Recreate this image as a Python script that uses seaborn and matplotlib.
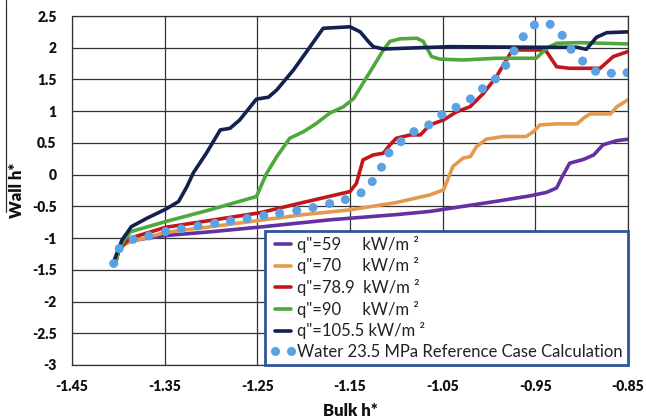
import matplotlib
matplotlib.use("Agg")
import matplotlib.pyplot as plt
from matplotlib.lines import Line2D
import pandas as pd
import seaborn as sns

# Bulk vs wall dimensionless enthalpy for several heat fluxes
q59_x = [-1.403, -1.399, -1.392, -1.386, -1.349, -1.30, -1.25, -1.17, -1.10, -1.064,
         -1.028, -0.992, -0.956, -0.938, -0.927, -0.922, -0.913, -0.898, -0.887,
         -0.877, -0.862, -0.85]
q59_y = [-1.38, -1.17, -1.08, -1.04, -0.96, -0.90, -0.83, -0.71, -0.63, -0.58,
         -0.50, -0.42, -0.335, -0.28, -0.21, -0.06, 0.18, 0.24, 0.31,
         0.47, 0.536, 0.558]

q70_x = [-1.403, -1.399, -1.392, -1.387, -1.349, -1.30, -1.247, -1.20, -1.15, -1.10,
         -1.064, -1.049, -1.039, -1.028, -1.02, -1.0135, -1.003, -0.985, -0.96,
         -0.952, -0.945, -0.927, -0.905, -0.898, -0.891, -0.869, -0.862, -0.85]
q70_y = [-1.38, -1.17, -1.09, -1.06, -0.91, -0.82, -0.72, -0.63, -0.555, -0.44,
         -0.32, -0.24, 0.127, 0.26, 0.285, 0.44, 0.558, 0.60, 0.60,
         0.678, 0.783, 0.80, 0.80, 0.89, 0.957, 0.957, 1.07, 1.18]

q79_x = [-1.403, -1.399, -1.392, -1.387, -1.349, -1.30, -1.247, -1.204, -1.15, -1.143,
         -1.136, -1.125, -1.114, -1.107, -1.10, -1.085, -1.074, -1.064, -1.049,
         -1.035, -1.0205, -1.006, -0.992, -0.977, -0.97, -0.945, -0.938, -0.927,
         -0.913, -0.88, -0.866, -0.85]
q79_y = [-1.38, -1.17, -1.07, -1.0, -0.83, -0.72, -0.60, -0.45, -0.267, -0.135,
         0.232, 0.31, 0.338, 0.468, 0.574, 0.626, 0.626, 0.783, 0.862,
         0.99, 1.07, 1.28, 1.544, 1.91, 1.965, 1.965, 1.94, 1.70,
         1.676, 1.676, 1.86, 1.94]

q90_x = [-1.403, -1.399, -1.392, -1.387, -1.349, -1.30, -1.251, -1.24, -1.229, -1.215,
         -1.20, -1.186, -1.172, -1.157, -1.146, -1.136, -1.125, -1.114, -1.107,
         -1.096, -1.078, -1.071, -1.062, -1.053, -1.028, -0.992, -0.949, -0.938,
         -0.927, -0.902, -0.85]
q90_y = [-1.38, -1.17, -1.0, -0.90, -0.74, -0.55, -0.345, 0.02, 0.284, 0.574,
         0.678, 0.81, 0.968, 1.07, 1.2, 1.44, 1.70, 1.965, 2.10,
         2.14, 2.15, 2.10, 1.86, 1.82, 1.807, 1.834, 1.834, 1.99,
         2.07, 2.08, 2.06]

q105_x = [-1.405, -1.396, -1.386, -1.369, -1.349, -1.335, -1.326, -1.319, -1.305, -1.29,
          -1.2795, -1.269, -1.251, -1.238, -1.229, -1.211, -1.193, -1.179, -1.15,
          -1.139, -1.13, -1.125, -1.114, -1.042, -0.949, -0.905, -0.895, -0.884,
          -0.873, -0.85]
q105_y = [-1.37, -1.03, -0.82, -0.686, -0.545, -0.424, -0.19, 0.03, 0.338, 0.705,
          0.73, 0.862, 1.19, 1.22, 1.335, 1.65, 2.017, 2.306, 2.33,
          2.25, 2.095, 2.017, 1.98, 2.017, 2.007, 2.007, 1.975, 2.165,
          2.237, 2.25]

ref_x = [-1.405, -1.399, -1.384, -1.367, -1.349, -1.332, -1.314, -1.296, -1.279, -1.261,
         -1.243, -1.226, -1.2075, -1.19, -1.172, -1.155, -1.138, -1.126, -1.116,
         -1.108, -1.095, -1.081, -1.065, -1.051, -1.0356, -1.02, -1.007, -0.993,
         -0.982, -0.973, -0.963, -0.951, -0.934, -0.921, -0.9115, -0.899, -0.885,
         -0.868, -0.851]
ref_y = [-1.40, -1.165, -1.02, -0.965, -0.897, -0.854, -0.81, -0.766, -0.728, -0.69,
         -0.645, -0.607, -0.566, -0.518, -0.456, -0.393, -0.287, -0.109, 0.117,
         0.343, 0.52, 0.678, 0.783, 0.946, 1.062, 1.193, 1.355, 1.508,
         1.723, 1.949, 2.174, 2.358, 2.369, 2.196, 1.975, 1.79, 1.629,
         1.598, 1.607]

labels = ['q"=59     kW/m \u00b2', 'q"=70     kW/m \u00b2', 'q"=78.9  kW/m \u00b2',
          'q"=90     kW/m \u00b2', 'q"=105.5 kW/m \u00b2']
colors = ["#6331A0", "#E39A4E", "#C2161C", "#4EA83D", "#14204F"]
ref_label = "Water 23.5 MPa Reference Case Calculation"
ref_color = "#5AA2E4"

x_ticks = [-1.45, -1.35, -1.25, -1.15, -1.05, -0.95, -0.85]
y_ticks = [2.5, 2, 1.5, 1, 0.5, 0, -0.5, -1, -1.5, -2, -2.5, -3]

sns.set_theme(style="white")
plt.rcParams["font.family"] = ["Lato", "DejaVu Sans"]

fig = plt.figure(figsize=(6.46, 4.18), dpi=100)
ax = fig.add_axes([72 / 646, 1 - 365 / 418, 556 / 646, 349 / 418])

series = [(q59_x, q59_y), (q70_x, q70_y), (q79_x, q79_y), (q90_x, q90_y), (q105_x, q105_y)]
frames = []
for (xs, ys), lab in zip(series, labels):
    frames.append(pd.DataFrame({"bulk": xs, "wall": ys, "case": lab}))
df = pd.concat(frames, ignore_index=True)

sns.lineplot(data=df, x="bulk", y="wall", hue="case", hue_order=labels,
             palette=colors, sort=False, estimator=None,
             linewidth=2.6, ax=ax, legend=False, solid_joinstyle="round",
             solid_capstyle="round")

ref = pd.DataFrame({"bulk": ref_x, "wall": ref_y})
sns.scatterplot(data=ref, x="bulk", y="wall", color=ref_color, s=42,
                edgecolor="none", ax=ax, legend=False, zorder=5)

ax.set_xlim(-1.45, -0.85)
ax.set_ylim(-3, 2.5)
ax.set_xticks(x_ticks)
ax.set_yticks(y_ticks)
ax.set_xticklabels([f"{v:.2f}" for v in x_ticks])
ax.set_yticklabels([f"{v:g}" for v in y_ticks])
ax.tick_params(axis="both", length=0, pad=11, labelsize=10, labelcolor="#111111")
for lbl in ax.get_xticklabels() + ax.get_yticklabels():
    lbl.set_fontweight("heavy")

ax.grid(True, color="#333333", linewidth=0.9)
ax.set_axisbelow(True)
for sp in ax.spines.values():
    sp.set_visible(True)
    sp.set_color("#333333")
    sp.set_linewidth(0.9)

ax.set_xlabel("Bulk h*", fontsize=12, fontweight="heavy", color="#111111")
ax.set_ylabel("Wall h*", fontsize=12, fontweight="heavy", color="#111111")
ax.xaxis.set_label_coords(0.5, -0.108)
ax.yaxis.set_label_coords(-0.084, 0.5)

handles = [Line2D([0], [0], color=c, linewidth=2.6) for c in colors]
handles.append(Line2D([0], [0], color=ref_color, linestyle="none", marker="o",
                      markersize=6.5, markeredgewidth=0))
leg = ax.legend(handles, labels + [ref_label], loc="lower right",
                bbox_to_anchor=(1.0, 0.0), borderaxespad=0.0, fontsize=12,
                frameon=True, fancybox=False, handlelength=1.55, handletextpad=0.1,
                labelspacing=0.28, borderpad=0.3, numpoints=2)
leg.get_frame().set_edgecolor("#2F5597")
leg.get_frame().set_linewidth(2.0)
leg.get_frame().set_facecolor("white")
leg.get_frame().set_alpha(1.0)
for t in leg.get_texts():
    t.set_color("#222222")

fig.add_artist(Line2D([6 / 646, 6 / 646], [1.0, 1 - 212 / 418], color="#333333",
                      linewidth=0.9, transform=fig.transFigure))

fig.savefig("out.png", dpi=100, facecolor="white")
